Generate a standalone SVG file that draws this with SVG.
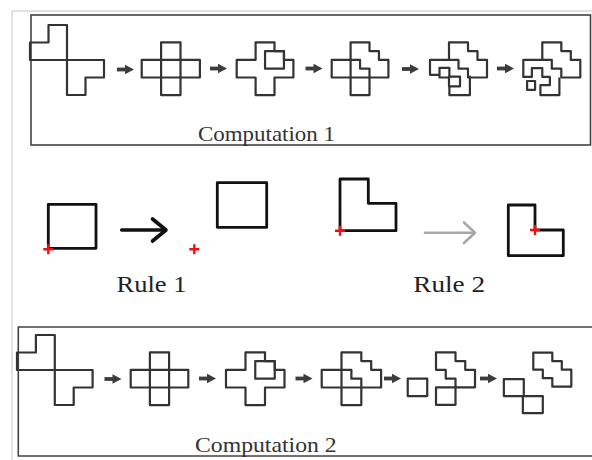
<svg xmlns="http://www.w3.org/2000/svg" xmlns:xlink="http://www.w3.org/1999/xlink" width="592" height="460" viewBox="0 0 592 460">
<style>
.sh{fill:none;stroke:#333;stroke-width:2.2;stroke-linejoin:round;vector-effect:non-scaling-stroke}
.box{fill:none;stroke:#444;stroke-width:1.6}
.frame{fill:none;stroke:#c4c4c4;stroke-width:1}
.rsq{fill:none;stroke:#111;stroke-width:2.8;stroke-linejoin:round}
.red{fill:none;stroke:#f01010;stroke-width:2.4}
.cap{font-family:"Liberation Serif","Times New Roman",serif;font-size:21px;fill:#333}
.rule{font-family:"Liberation Serif","Times New Roman",serif;font-size:23px;fill:#222}
</style>
<defs>
<g id="arr"><path d="M0,0 H10" stroke="#3c3c3c" stroke-width="3.8" fill="none"/><path d="M8,-4.8 L17,0 L8,4.8 Z" fill="#3c3c3c"/></g>
<path id="red" d="M-5,0 H5 M0,-5 V5"/>
</defs>
<g id="frame">
<path class="frame" d="M12,460 V11 H592"/>
<rect class="box" x="31" y="15" width="559.5" height="130"/>
<path class="box" d="M600,327 H18.3 V456 H600"/>
</g>
<g id="comp1">
<g id="c1s1" transform="translate(30,25) scale(18.5,17.5)">
<path class="sh" d="M1,0 H2 V2 H0 V1 H1 Z"/>
<path class="sh" d="M2,2 H4 V3 H3 V4 H2 Z"/>
</g>
<g id="c1s2" transform="translate(141.7,42.3) scale(19.4,17.6)">
<path class="sh" d="M0,1 H3 V2 H0 Z"/>
<path class="sh" d="M1,0 H2 V3 H1 Z"/>
</g>
<g id="c1s3" transform="translate(236.7,42.3) scale(18.9,17.6)">
<path class="sh" d="M1,0 H2 V0.5 H2.5 V1 H3 V2 H2 V3 H1 V2 H0 V1 H1 Z"/>
<path class="sh" d="M1.5,0.5 H2.5 V1.5 H1.5 Z"/>
</g>
<g id="c1s4" transform="translate(331.7,42.3) scale(18.9,17.6)">
<path class="sh" d="M1,0 H2 V0.5 H2.5 V1 H3 V2 H2 V1.5 H1.5 V1 H1 Z"/>
<path class="sh" d="M1,1 H0 V2 H2 M1,1 V3 H2 V2"/>
</g>
<g id="c1s5" transform="translate(430,42.3) scale(19,17.6)">
<path class="sh" d="M1,0 H2 V0.5 H2.5 V1 H3 V2 H2 V1.5 H1.5 V1 H1 Z"/>
<path class="sh" d="M1,1 H0 V1.85 H0.5"/>
<path class="sh" d="M0.5,1.45 H1.02 V2 H0.5 Z"/>
<path class="sh" d="M1,1.95 H1.58 V2.5 H1 Z"/>
<path class="sh" d="M1.02,2.5 V3 H2.1 V1.9"/>
</g>
<g id="c1s6" transform="translate(523.3,42.3) scale(19,17.6)">
<path class="sh" d="M1,0 H2 V0.5 H2.5 V1 H3 V2 H2 V1.5 H1.5 V1 H1 Z"/>
<path class="sh" d="M1,1 H0 V1.97 H0.45 V1.47 H1 V1.97 H1.4 V2.43 H0.9 V3 H1.9 V2"/>
<path class="sh" d="M0.2,2.2 H0.62 V2.7 H0.2 Z"/>
</g>
<text class="cap" x="198" y="140.5" textLength="137" lengthAdjust="spacingAndGlyphs">Computation 1</text>
</g>
<g id="rules">
<g id="r1a"><rect class="rsq" x="48.3" y="204.3" width="47.7" height="44"/><use class="red" xlink:href="#red" x="48.3" y="249.3"/></g>
<g id="r1b"><use class="red" xlink:href="#red" x="194.3" y="249.3"/><rect class="rsq" x="217.3" y="182.7" width="49.4" height="44.6" stroke-width="3.2"/></g>
<g id="r2a"><path class="rsq" stroke="#222" stroke-width="2.4" d="M340,179 H368.3 V203.3 H396 V230.7 H340 Z"/><use class="red" xlink:href="#red" x="340" y="230.7"/></g>
<g id="r2b"><path class="rsq" stroke="#222" stroke-width="2.4" d="M508.3,205 H535 V230 H563.3 V255.7 H508.3 Z"/><use class="red" xlink:href="#red" x="535" y="230"/></g>
<text class="rule" x="116.5" y="291.7" textLength="70" lengthAdjust="spacingAndGlyphs">Rule 1</text>
<text class="rule" x="413.3" y="291.7" textLength="71.7" lengthAdjust="spacingAndGlyphs">Rule 2</text>
</g>
<g id="comp2">
<g id="c2s1" transform="translate(17,335) scale(18.9,17.5)">
<path class="sh" d="M1,0 H2 V2 H0 V1 H1 Z"/>
<path class="sh" d="M2,2 H4 V3 H3 V4 H2 Z"/>
</g>
<g id="c2s2" transform="translate(130.7,352.3) scale(19.2,17.6)">
<path class="sh" d="M0,1 H3 V2 H0 Z"/>
<path class="sh" d="M1,0 H2 V3 H1 Z"/>
</g>
<g id="c2s3" transform="translate(226,352.3) scale(19.5,17.6)">
<path class="sh" d="M1,0 H2 V0.5 H2.5 V1 H3 V2 H2 V3 H1 V2 H0 V1 H1 Z"/>
<path class="sh" d="M1.5,0.5 H2.5 V1.5 H1.5 Z"/>
</g>
<g id="c2s4" transform="translate(321.7,352.3) scale(19.8,17.6)">
<path class="sh" d="M1,0 H2 V0.5 H2.5 V1 H3 V2 H2 V1.5 H1.5 V1 H1 Z"/>
<path class="sh" d="M1,1 H0 V2 H2 M1,1 V3 H2 V2"/>
</g>
<g id="c2s5" transform="translate(436,352.3) scale(19.5,17.5)">
<path class="sh" d="M0,0 H1 V0.5 H1.5 V1 H2 V2 H1 V1.5 H0.5 V1 H0 Z"/>
<path class="sh" d="M0,2 H1 V3 H0 Z"/>
<path class="sh" d="M-1.45,1.5 H-0.45 V2.5 H-1.45 Z"/>
</g>
<g id="c2s6" transform="translate(533.3,352.7) scale(19,17)">
<path class="sh" d="M0,0 H1 V0.5 H1.5 V1 H2 V2 H1 V1.5 H0.5 V1 H0 Z"/>
<path class="sh" d="M-1.55,1.55 H-0.5 V2.55 H-1.55 Z"/>
<path class="sh" d="M-0.55,2.55 H0.5 V3.55 H-0.55 Z"/>
</g>
<text class="cap" x="195" y="451.5" textLength="141.7" lengthAdjust="spacingAndGlyphs">Computation 2</text>
</g>
<g id="connectors">
<use xlink:href="#arr" x="117" y="69.5"/>
<use xlink:href="#arr" x="210" y="68.5"/>
<use xlink:href="#arr" x="305.5" y="68.5"/>
<use xlink:href="#arr" x="402" y="69"/>
<use xlink:href="#arr" x="497" y="68.5"/>
<use xlink:href="#arr" x="104.5" y="379"/>
<use xlink:href="#arr" x="199" y="378.5"/>
<use xlink:href="#arr" x="295.5" y="378.5"/>
<use xlink:href="#arr" x="384" y="378.5"/>
<use xlink:href="#arr" x="480" y="378.5"/>
<path d="M121.7,230 H165" stroke="#111" stroke-width="3.6" stroke-linecap="round" fill="none"/>
<path d="M152.5,219 L166,230 L152.5,241" stroke="#111" stroke-width="3.6" stroke-linecap="round" stroke-linejoin="round" fill="none"/>
<path d="M425,232.7 H474" stroke="#a8a8a8" stroke-width="2.6" stroke-linecap="round" fill="none"/>
<path d="M464,222.5 L475,232.7 L464,243" stroke="#a8a8a8" stroke-width="2.6" stroke-linecap="round" stroke-linejoin="round" fill="none"/>
</g>
</svg>
